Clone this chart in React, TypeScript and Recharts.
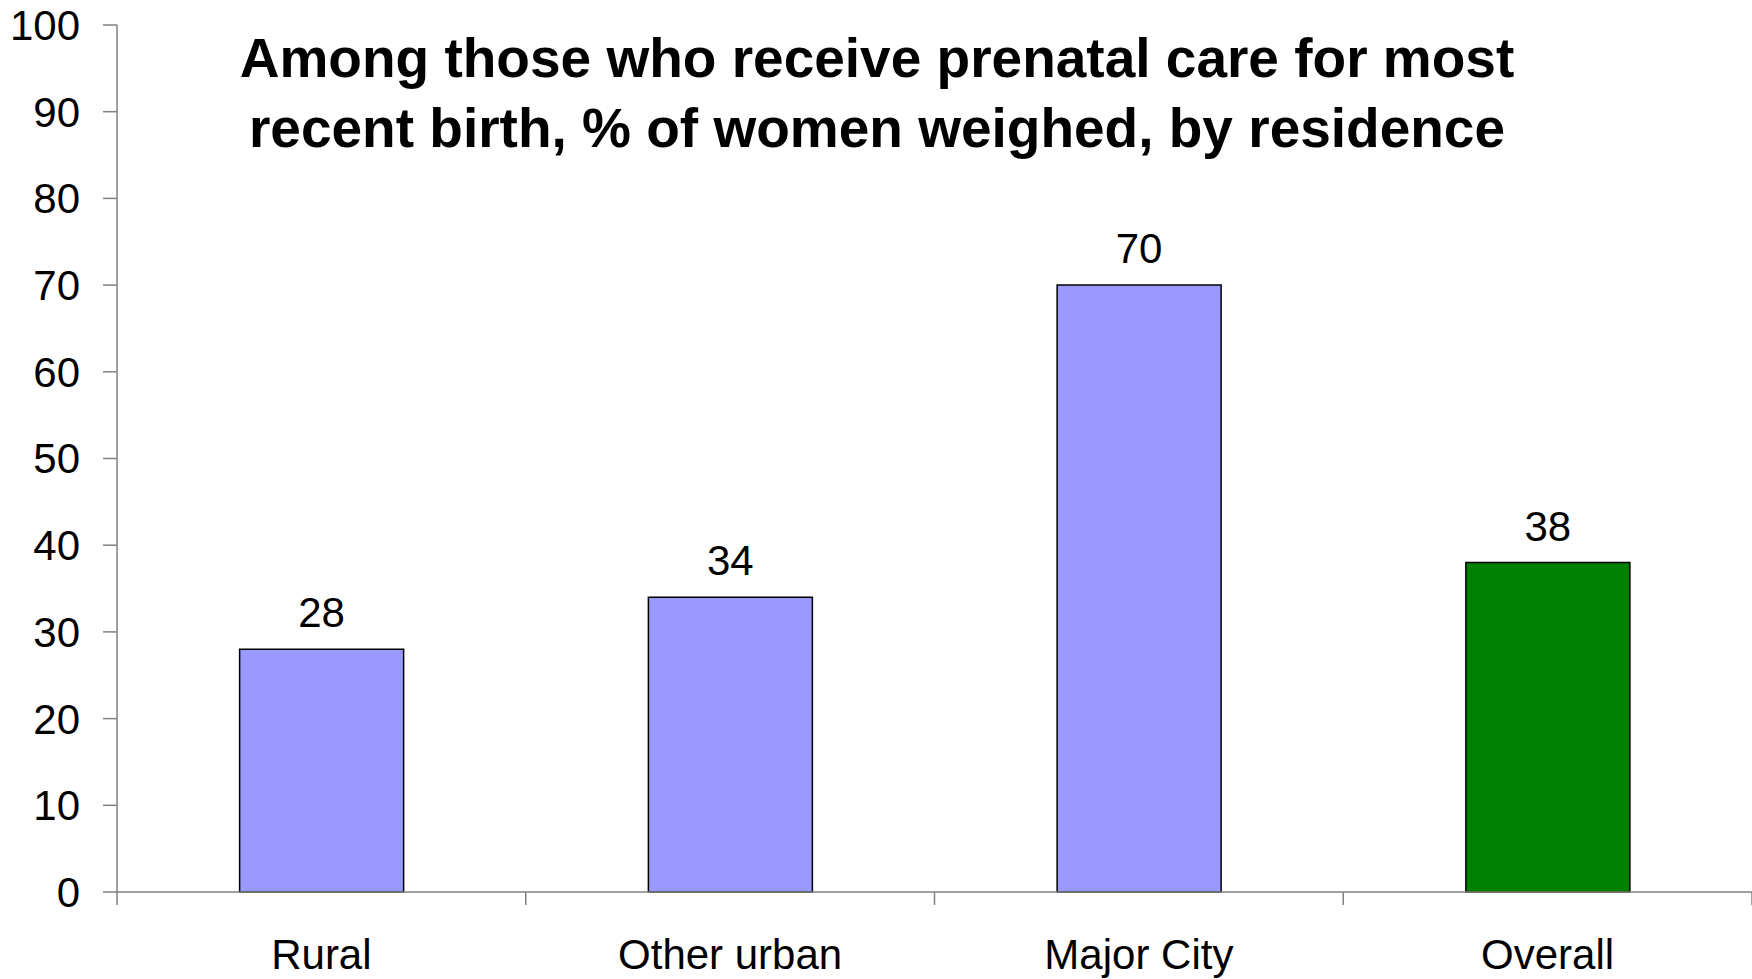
import { BarChart, Bar, XAxis, YAxis, Cell, LabelList } from 'recharts';

const categories = ['Rural', 'Other urban', 'Major City', 'Overall'];
const weighed = [28, 34, 70, 38];
const barColors = ['#9999FF', '#9999FF', '#9999FF', '#008000'];
const yTicks = [0, 10, 20, 30, 40, 50, 60, 70, 80, 90, 100];
const boundaryTicks = [0, 1, 2, 3, 4];
const titleLines = [
  'Among those who receive prenatal care for most',
  'recent birth, % of women weighed, by residence',
];

const data = categories.map((name, i) => ({ name, value: weighed[i] }));

const FONT = '"Liberation Sans", Arial, sans-serif';
const AXIS = '#808080';

export default function App() {
  return (
    <div style={{ position: 'absolute', left: 0, top: 0, width: 1752, height: 979, background: '#fff', fontFamily: FONT }}>
      <BarChart
        width={1752}
        height={979}
        data={data}
        margin={{ top: 25, right: 0, left: 0, bottom: 0 }}
        barCategoryGap="30%"
      >
        <XAxis
          xAxisId="cat"
          dataKey="name"
          height={86}
          axisLine={false}
          tickLine={false}
          tickSize={0}
          tickMargin={46}
          tick={{ fill: '#000', fontSize: 42, fontFamily: FONT }}
          interval={0}
        />
        {/* separate axis only for the tick marks between categories */}
        <XAxis
          xAxisId={0}
          dataKey="edge"
          type="number"
          domain={[0, 4]}
          ticks={boundaryTicks}
          interval={0}
          allowDataOverflow
          height={1}
          tickSize={13}
          tickFormatter={() => ''}
          stroke={AXIS}
          axisLine={{ stroke: AXIS, strokeWidth: 1.5 }}
          tickLine={{ stroke: AXIS, strokeWidth: 1.5 }}
        />
        <YAxis
          width={117}
          domain={[0, 100]}
          ticks={yTicks}
          interval={0}
          tickSize={14}
          tickMargin={23}
          axisLine={{ stroke: AXIS, strokeWidth: 1.5 }}
          tickLine={{ stroke: AXIS, strokeWidth: 1.5 }}
          tick={{ fill: '#000', fontSize: 42, fontFamily: FONT }}
        />
        <Bar xAxisId="cat" dataKey="value" stroke="#000" strokeWidth={1.5} isAnimationActive={false}>
          {data.map((d, i) => (
            <Cell key={d.name} fill={barColors[i]} />
          ))}
          <LabelList dataKey="value" position="top" offset={22} fill="#000" fontSize={42} fontFamily={FONT} />
        </Bar>
      </BarChart>
      <div
        style={{
          position: 'absolute',
          left: 877 - 750,
          width: 1500,
          top: 23,
          textAlign: 'center',
          fontWeight: 'bold',
          fontSize: 55,
          lineHeight: '70px',
          color: '#000',
          fontFamily: FONT,
        }}
      >
        {titleLines.map((t) => (
          <div key={t}>{t}</div>
        ))}
      </div>
    </div>
  );
}
